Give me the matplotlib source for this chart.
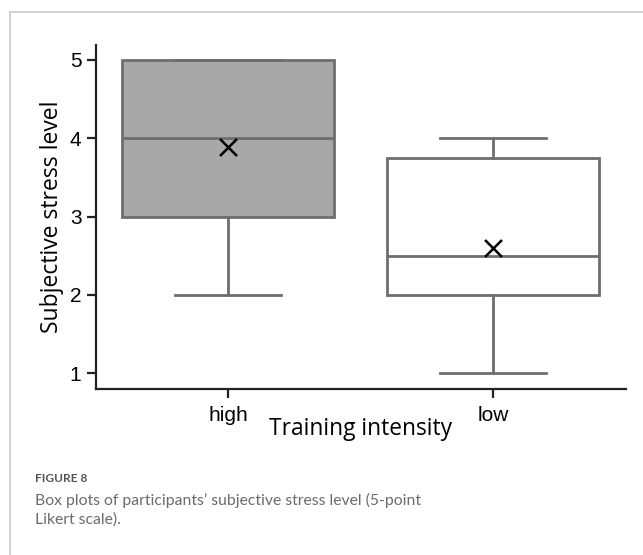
import matplotlib.pyplot as plt
from matplotlib.lines import Line2D

# data
groups = ['high', 'low']
whislo = [2, 1]
q1 = [3, 2]
med = [4, 2.5]
q3 = [5, 3.75]
whishi = [5, 4]
means = [3.89, 2.6]
box_colors = ['#a8a8a8', 'white']

plt.rcParams['font.family'] = ['Liberation Sans', 'DejaVu Sans']

fig = plt.figure(figsize=(6.43, 5.55), dpi=100)
ax = fig.add_axes([0.1493, 0.2991, 0.8235, 0.6198])

stats = []
for i, g in enumerate(groups):
    stats.append(dict(label=g, whislo=whislo[i], q1=q1[i], med=med[i],
                      q3=q3[i], whishi=whishi[i], fliers=[]))

edge = '#6e6e6e'
bp = ax.bxp(stats, positions=range(len(groups)), widths=0.8,
            patch_artist=True, showfliers=False,
            boxprops=dict(edgecolor=edge, linewidth=2),
            medianprops=dict(color=edge, linewidth=2),
            whiskerprops=dict(color=edge, linewidth=2),
            capprops=dict(color=edge, linewidth=2),
            capwidths=0.4)
for patch, c in zip(bp['boxes'], box_colors):
    patch.set_facecolor(c)

ax.scatter(range(len(groups)), means, marker='x', s=150, color='black',
           linewidths=1.8, zorder=5)

ax.set_xlim(-0.5, 1.5)
ax.set_ylim(0.8, 5.19)
ax.set_yticks([1, 2, 3, 4, 5])
ax.set_xticks(range(len(groups)))
ax.set_xticklabels(groups)

for s in ['top', 'right']:
    ax.spines[s].set_visible(False)
for s in ['left', 'bottom']:
    ax.spines[s].set_linewidth(1.6)
    ax.spines[s].set_color('#222222')
ax.tick_params(axis='both', labelsize=15, width=1.6, length=6.5,
               color='#222222')
ax.tick_params(axis='y', pad=4)
ax.tick_params(axis='x', pad=6)

ax.set_ylabel('Subjective stress level', fontsize=16.5, family='Open Sans',
              labelpad=4)
ax.set_xlabel('Training intensity', fontsize=16.4, family='Open Sans',
              labelpad=-6)

# caption
fig.text(35 / 643, 1 - 479 / 555, 'FIGURE 8', fontsize=8.6, color='#555555',
         family='Lato', fontweight='bold', va='center')
fig.text(35 / 643, 1 - 500 / 555,
         'Box plots of participants\u2019 subjective stress level (5-point',
         fontsize=11.3, color='#6b6b6b', family='Lato', va='center')
fig.text(35 / 643, 1 - 520 / 555, 'Likert scale).',
         fontsize=11.3, color='#6b6b6b', family='Lato', va='center')

# light frame around the figure
fig.add_artist(Line2D([10 / 643, 10 / 643], [0, 1 - 12 / 555],
                      color='#cccccc', linewidth=1.2))
fig.add_artist(Line2D([10 / 643, 1], [1 - 12 / 555, 1 - 12 / 555],
                      color='#cccccc', linewidth=1.2))

fig.savefig('out.png', dpi=100)
